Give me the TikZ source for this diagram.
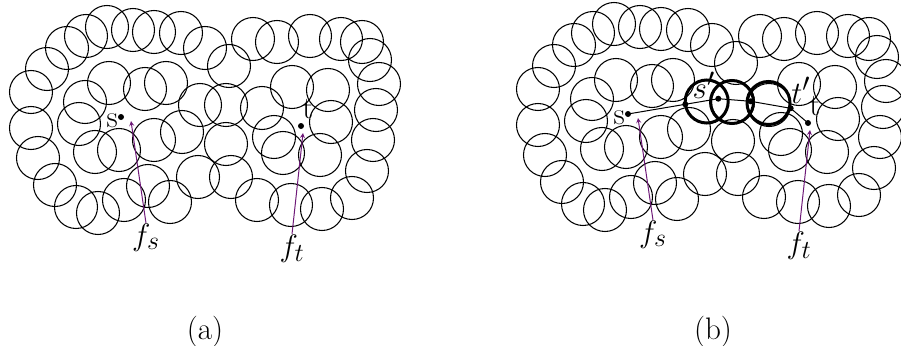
\documentclass[tikz,border=0pt]{standalone}
\definecolor{fpurple}{RGB}{110,25,120}
\tikzset{
  disk/.style={line width=0.85pt},
  bigdisk/.style={line width=2.4pt},
  fline/.style={draw=fpurple, line width=0.8pt, ->, >=stealth},
  lbl/.style={font=\Huge, inner sep=0pt}
}
\begin{document}
\begin{tikzpicture}[x=0.8pt,y=-0.8pt]
    \useasboundingbox (0,0) rectangle (901,345);
    \clip (0,0) rectangle (901,345);

    % same disk cover in both panels
    \foreach \dx/\dy/\pn in {0/0/a, 507/-3/b} {
    \begin{scope}[shift={(\dx,\dy)}]
        \foreach \cx/\cy in {31/92, 31/128, 38/158, 55/185, 76/207, 98/213,
                124/200, 148/186, 170/202, 198/177, 231/177, 257/200, 291/205,
                322/209, 352/198, 367/171, 373/140, 376/110, 379/84, 370/60,
                362/42, 341/39, 310/36, 277/42, 253/39, 229/66, 205/48, 181/33,
                154/32, 133/30, 107/27, 86/36, 67/48, 47/69,
                109/83, 85/102, 79/124, 95/152, 119/150, 145/89, 166/83,
                154/140, 182/132, 200/105, 226/105, 226/144, 262/108, 274/137,
                283/153, 292/87, 328/90, 331/122, 320/155}
            \draw[disk] (\cx,\cy) circle [radius=21.5];

        \coordinate (s\pn) at (121,117);
        \coordinate (t\pn) at (301,126);
        \fill (s\pn) circle [radius=3];
        \fill (t\pn) circle [radius=3];
        \node [lbl, anchor=base east] (slbl\pn) at (118,127) {s};
        \node [lbl, anchor=base west] (tlbl\pn) at (302,118) {t};

        \node [lbl, anchor=base] (fs\pn) at (146,245) {$f_s$};
        \node [lbl, anchor=base] (ft\pn) at (292,256) {$f_t$};
        \coordinate (fstip\pn) at (131,121);
        \coordinate (fttip\pn) at (303,133);
        \draw [fline] (fs\pn.north) -- (fstip\pn);
        \draw [fline] (ft\pn.north) -- (fttip\pn);
    \end{scope}
    }

    % chain of disks from s' to t'
    \draw[bigdisk] (706.7,101.5) circle [radius=21.5];
    \draw[bigdisk] (732,102) circle [radius=21.5];
    \draw[bigdisk] (768.5,103) circle [radius=21.5];

    \coordinate (pa) at (685.3,104.3);
    \coordinate (sprime) at (718.3,98.7);
    \coordinate (pc) at (750.7,101.3);
    \coordinate (tprime) at (790.7,108.3);
    \draw [line width=0.8pt] (sb) -- (pa) -- (sprime) -- (pc) -- (tprime) -- (tb);
    \foreach \q in {pa, sprime, pc, tprime}
        \fill (\q) circle [radius=3];
    \node [lbl, anchor=base east] (splbl) at (715,98) {$s'$};
    \node [lbl, anchor=base west] (tplbl) at (791,103) {$t'$};

    \node [lbl, anchor=base] (capa) at (205,339) {(a)};
    \node [lbl, anchor=base] (capb) at (713,339) {(b)};
\end{tikzpicture}
\end{document}
